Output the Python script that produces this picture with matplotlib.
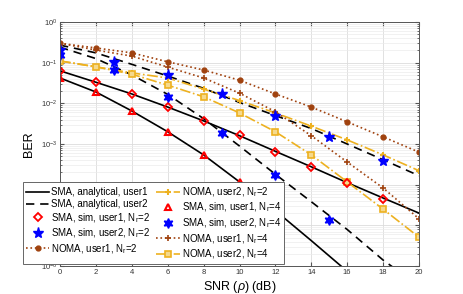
import matplotlib
matplotlib.use("Agg")
import matplotlib.pyplot as plt
import numpy as np

plt.rcParams['font.family'] = ['Liberation Sans', 'DejaVu Sans']
plt.rcParams['mathtext.fontset'] = 'custom'
plt.rcParams['mathtext.rm'] = 'Liberation Sans'
plt.rcParams['mathtext.it'] = 'Liberation Sans:italic'

snr = [0, 2, 4, 6, 8, 10, 12, 14, 16, 18, 20]
snr_sim = [0, 3, 6, 9, 12, 15, 18]

# analytical SMA curves
sma_ana_u1_nr2 = [6.3e-2, 3.3e-2, 1.7e-2, 8.1e-3, 3.7e-3, 1.6e-3, 6.6e-4, 2.75e-4, 1.12e-4, 4.7e-5, 2.0e-5]
sma_ana_u1_nr4 = [4.2e-2, 1.9e-2, 6.5e-3, 2.0e-3, 5.4e-4, 1.17e-4, 2.3e-5, 4.2e-6, 7.4e-7, 1.3e-7, 2.2e-8]
sma_ana_u2_nr2 = [0.27, 0.174, 0.091, 0.047, 0.0234, 0.0105, 5.0e-3, 2.4e-3, 1.0e-3, 4.1e-4, 1.66e-4]
sma_ana_u2_nr4 = [0.24, 0.126, 0.05, 0.0166, 4.2e-3, 8.9e-4, 1.8e-4, 3.8e-5, 7.9e-6, 1.4e-6, 3.2e-7]

# simulated SMA points
sma_sim_u1_nr2 = [6.3e-2, 3.4e-2, 1.7e-2, 8.1e-3, 3.7e-3, 1.66e-3, 6.5e-4, 2.75e-4, 1.12e-4, 4.5e-5]
sma_sim_u1_nr4 = [4.2e-2, 1.9e-2, 6.5e-3, 2.0e-3, 5.4e-4, 1.17e-4, 2.3e-5]
sma_sim_u2_nr2 = [0.204, 0.105, 0.05, 0.017, 4.8e-3, 1.45e-3, 3.8e-4]
sma_sim_u2_nr4 = [0.155, 0.066, 0.0145, 1.86e-3, 1.74e-4, 1.35e-5]

# NOMA curves
noma_u1_nr2 = [0.30, 0.23, 0.174, 0.105, 0.066, 0.037, 0.017, 8.1e-3, 3.5e-3, 1.5e-3, 6.3e-4]
noma_u1_nr4 = [0.30, 0.204, 0.145, 0.078, 0.042, 0.0178, 6.2e-3, 1.6e-3, 3.6e-4, 8.3e-5, 1.45e-5]
noma_u2_nr2 = [0.11, 0.079, 0.056, 0.042, 0.0224, 0.0117, 5.8e-3, 2.75e-3, 1.26e-3, 5.4e-4, 2.2e-4]
noma_u2_nr4 = [0.11, 0.079, 0.052, 0.028, 0.0145, 5.8e-3, 2.0e-3, 5.4e-4, 1.17e-4, 2.5e-5, 5.1e-6]

brown = '#A0420F'
yellow = '#EDB120'

fig = plt.figure(figsize=(4.63, 2.94), dpi=100)
ax = fig.add_axes([0.1296, 0.0952, 0.7754, 0.830])

h1, = ax.plot(snr, sma_ana_u1_nr2, '-', color='k', lw=1.2)
ax.plot(snr, sma_ana_u1_nr4, '-', color='k', lw=1.2)
h2, = ax.plot(snr, sma_ana_u2_nr2, '--', color='k', lw=1.2, dashes=(5, 3.5))
ax.plot(snr, sma_ana_u2_nr4, '--', color='k', lw=1.2, dashes=(5, 3.5))

h6, = ax.plot(snr, noma_u2_nr2, '-.', color=yellow, lw=1.2, marker='+', ms=5, mew=1.5)
h10, = ax.plot(snr, noma_u2_nr4, '-.', color=yellow, lw=1.2, marker='s', ms=4, mew=1.2,
               mfc='#F5D98C')
h5, = ax.plot(snr, noma_u1_nr2, ':', color=brown, lw=1.2, marker='o', ms=3.5, mfc=brown)
h9, = ax.plot(snr, noma_u1_nr4, ':', color=brown, lw=1.2, marker='+', ms=4, mew=1.2)

h3, = ax.plot(snr[:10], sma_sim_u1_nr2, 'D', color='red', ms=4.5, mfc='none', mew=1.3, ls='none')
h7, = ax.plot(snr[:7], sma_sim_u1_nr4, '^', color='red', ms=5, mfc='none', mew=1.5, ls='none')
h4, = ax.plot(snr_sim, sma_sim_u2_nr2, '*', color='blue', ms=8, ls='none')
h8, = ax.plot(snr_sim[:6], sma_sim_u2_nr4, marker=(6, 1, 0), color='blue', ms=7, ls='none')

ax.set_yscale('log')
ax.set_xlim(0, 20)
ax.set_ylim(1e-6, 1)
ax.set_xticks(range(0, 21, 2))
ax.set_yticks([1e-6, 1e-5, 1e-4, 1e-3, 1e-2, 1e-1, 1])
ax.grid(True, which='major', color='#DCDCDC', lw=0.6)
ax.grid(True, which='minor', axis='y', color='#EBEBEB', lw=0.5)
ax.set_axisbelow(True)
ax.tick_params(which='both', direction='in', top=True, right=True, labelsize=5.5,
               color='#555555', labelcolor='#333333', pad=2)
ax.tick_params(which='major', length=3)
ax.tick_params(which='minor', length=1.5)
for s in ax.spines.values():
    s.set_color('#555555')
    s.set_linewidth(0.7)

ax.set_xlabel('SNR ($\\rho$) (dB)', fontsize=9, labelpad=2)
ax.set_ylabel('BER', fontsize=9, labelpad=4)

nr2 = 'N$_\\mathregular{r}$=2'
nr4 = 'N$_\\mathregular{r}$=4'
handles = [h1, h2, h3, h4, h5, h6, h7, h8, h9, h10]
labels = ['SMA, analytical, user1', 'SMA, analytical, user2',
          'SMA, sim, user1, ' + nr2, 'SMA, sim, user2, ' + nr2,
          'NOMA, user1, ' + nr2, 'NOMA, user2, ' + nr2,
          'SMA, sim, user1, ' + nr4, 'SMA, sim, user2, ' + nr4,
          'NOMA, user1, ' + nr4, 'NOMA, user2, ' + nr4]
leg = ax.legend(handles, labels, ncol=2, fontsize=7, loc='lower left',
                bbox_to_anchor=(0.05, 0.102), bbox_transform=fig.transFigure,
                frameon=True, fancybox=False, framealpha=1, edgecolor='#666666',
                handlelength=2.4, handletextpad=0.2, columnspacing=0.6,
                labelspacing=0.2, borderpad=0.3, borderaxespad=0)
leg.get_frame().set_linewidth(0.7)
leg.set_zorder(10)

fig.savefig('out.png', dpi=100)
